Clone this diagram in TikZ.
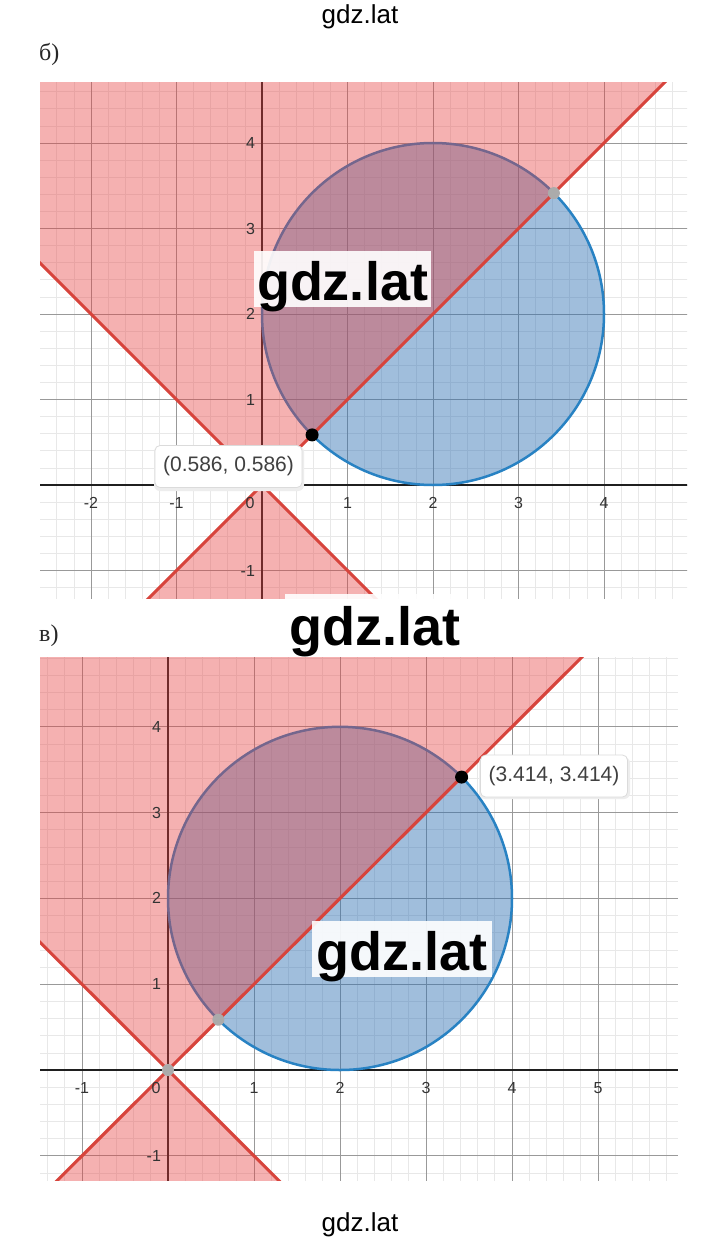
\documentclass[tikz,border=0pt]{standalone}
\usepackage{fontspec}
\setmainfont{Liberation Sans}
\newfontfamily\serifcyr{Liberation Serif}
\definecolor{dred}{RGB}{232,62,62}
\definecolor{dredline}{RGB}{215,68,60}
\definecolor{dblue}{RGB}{45,112,179}
\definecolor{dblueline}{RGB}{40,130,195}
\tikzset{
  minorgrid/.style={draw=black!9, line width=0.7pt},
  majorgrid/.style={draw=black!40, line width=0.8pt},
  axisline/.style={draw=black!88, line width=1.3pt},
  redfill/.style={fill=dred, fill opacity=0.4},
  bluefill/.style={fill=dblue, fill opacity=0.45},
  redline/.style={draw=dredline, line width=3.1pt},
  blueline/.style={draw=dblueline, line width=2.5pt},
  ticklab/.style={font=\fontsize{16}{16}\selectfont, text=black!80, inner sep=0pt},
  tipbox/.style={draw=black!14, fill=white, rounded corners=5pt, line width=0.8pt,
    minimum width=147pt, minimum height=42pt, inner sep=0pt,
    font=\fontsize{21}{21}\selectfont, text=black!75},
  tipshadow/.style={fill=black!7, rounded corners=6pt},
  wmtext/.style={font=\fontsize{54}{54}\selectfont\bfseries, text=black, inner sep=0pt},
  wmrect/.style={fill=white, fill opacity=0.9},
  smalltitle/.style={font=\fontsize{26}{26}\selectfont, text=black, inner sep=0pt},
  partlab/.style={font=\serifcyr\fontsize{24}{24}\selectfont, text=black!85, inner sep=0pt},
  bpoint/.style={fill=black},
  gpoint/.style={fill=black!33}
}
\begin{document}
\begin{tikzpicture}[x=1pt,y=1pt]
\fill[white] (0,0) rectangle (720,-1241);
\useasboundingbox (0,0) rectangle (720,-1241);

% titles
\node[smalltitle, anchor=base] (top) at (360,-24) {gdz.lat};
\node[smalltitle, anchor=base] (bottom) at (360,-1231) {gdz.lat};
\node[partlab, anchor=base west] (lb) at (39,-61) {б)};
\node[partlab, anchor=base west] (lv) at (39,-641) {в)};

% ---------------- graph b ----------------
\begin{scope}[shift={(262pt,-485pt)}, x=85.5pt, y=85.5pt]
  \clip (-2.596,-1.322) rectangle (4.971,4.713);
  \foreach \i in {-12,...,24} \draw[minorgrid] (\i/5,-1.4) -- (\i/5,4.8);
  \foreach \i in {-6,...,23} \draw[minorgrid] (-2.7,\i/5) -- (5,\i/5);
  \foreach \i in {-2,...,4} \draw[majorgrid] (\i,-1.4) -- (\i,4.8);
  \foreach \i in {-1,...,4} \draw[majorgrid] (-2.7,\i) -- (5,\i);
  \draw[axisline] (-2.7,0) -- (5,0);
  \draw[axisline] (0,-1.4) -- (0,4.8);
  \fill[bluefill] (2,2) circle (2);
  \draw[blueline] (2,2) circle (2);
  \fill[redfill] (0,0) -- (-8,8) -- (8,8) -- cycle;
  \fill[redfill] (0,0) -- (-8,-8) -- (8,-8) -- cycle;
  \draw[redline] (-8,-8) -- (8,8);
  \draw[redline] (-8,8) -- (8,-8);
  \foreach \k in {-2,-1,1,2,3,4} \node[ticklab] at (\k,-0.21) {\k};
  \node[ticklab] at (-0.14,-0.21) {0};
  \foreach \k in {-1,1,2,3,4} \node[ticklab, anchor=east] at (-0.08,\k) {\k};
  \fill[gpoint] (3.414,3.414) circle (6pt);
  \fill[bpoint] (0.586,0.586) circle (6.5pt);
\end{scope}
\fill[tipshadow] (154,-446) rectangle (304,-491);
\node[tipbox] (tipb) at (228.5,-466.5) {(0.586, 0.586)};

% ---------------- graph v ----------------
\begin{scope}[shift={(168pt,-1070pt)}, x=86pt, y=85.8pt]
  \clip (-1.488,-1.282) rectangle (5.93,4.81);
  \foreach \i in {-7,...,29} \draw[minorgrid] (\i/5,-1.4) -- (\i/5,4.9);
  \foreach \i in {-6,...,24} \draw[minorgrid] (-1.6,\i/5) -- (6,\i/5);
  \foreach \i in {-1,...,5} \draw[majorgrid] (\i,-1.4) -- (\i,4.9);
  \foreach \i in {-1,...,4} \draw[majorgrid] (-1.6,\i) -- (6,\i);
  \draw[axisline] (-1.6,0) -- (6,0);
  \draw[axisline] (0,-1.4) -- (0,4.9);
  \fill[bluefill] (2,2) circle (2);
  \draw[blueline] (2,2) circle (2);
  \fill[redfill] (0,0) -- (-8,8) -- (8,8) -- cycle;
  \fill[redfill] (0,0) -- (-8,-8) -- (8,-8) -- cycle;
  \draw[redline] (-8,-8) -- (8,8);
  \draw[redline] (-8,8) -- (8,-8);
  \foreach \k in {-1,1,2,3,4,5} \node[ticklab] at (\k,-0.21) {\k};
  \node[ticklab] at (5.98,-0.21) {6};
  \node[ticklab] at (-0.14,-0.21) {0};
  \foreach \k in {-1,1,2,3,4} \node[ticklab, anchor=east] at (-0.08,\k) {\k};
  \fill[gpoint] (0,0) circle (6pt);
  \fill[gpoint] (0.586,0.586) circle (6pt);
  \fill[bpoint] (3.414,3.414) circle (6.5pt);
\end{scope}
\fill[tipshadow] (479,-757) rectangle (630,-799);
\node[tipbox] (tipv) at (554,-776) {(3.414, 3.414)};

% watermarks
\fill[wmrect] (254,-251) rectangle (431,-307);
\node[wmtext, anchor=base] (wm1) at (342.5,-300) {gdz.lat};
\fill[wmrect] (285,-594) rectangle (465,-657);
\node[wmtext, anchor=base] (wm2) at (375,-645) {gdz.lat};
\fill[wmrect] (312,-921) rectangle (492,-977);
\node[wmtext, anchor=base] (wm3) at (402,-970) {gdz.lat};
\end{tikzpicture}
\end{document}
